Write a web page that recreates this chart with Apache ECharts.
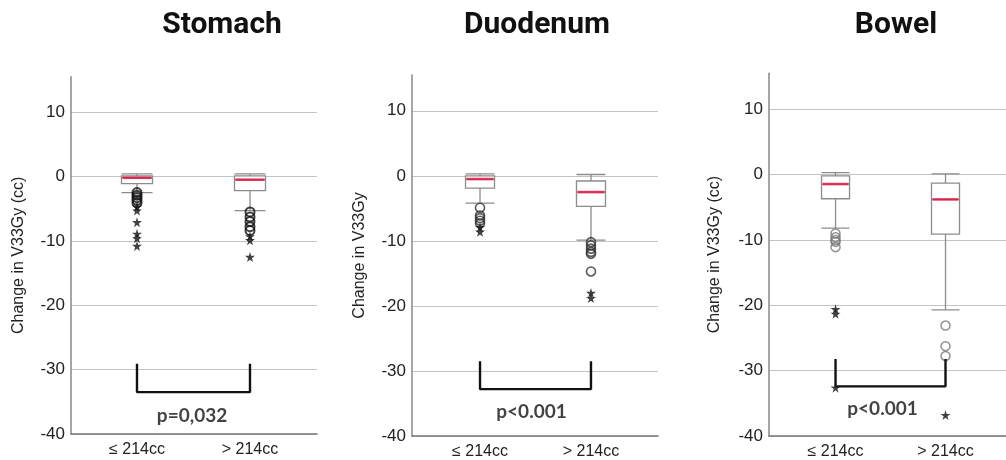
<!DOCTYPE html>
<html>
<head>
<meta charset="utf-8">
<script src="https://cdn.jsdelivr.net/npm/echarts@6/dist/echarts.min.js"></script>
<style>html,body{margin:0;padding:0;background:#fff}#c{width:1006px;height:460px}</style>
</head>
<body>
<div id="c"></div>
<script>
// ---- data ----
const categories = ['≤ 214cc', '> 214cc'];
const panelTitles = ['Stomach', 'Duodenum', 'Bowel'];
const yNames = ['Change in V33Gy (cc)', 'Change in V33Gy', 'Change in V33Gy (cc)'];
const yTicks = [-40, -30, -20, -10, 0, 10];

// [lower whisker, Q1, median, Q3, upper whisker]
const stomachBox = [[-2.5, -1.1, -0.2, 0.1, 0.4], [-5.3, -2.2, -0.5, 0.1, 0.4]];
const duodenumBox = [[-4.2, -1.9, -0.5, 0.0, 0.3], [-9.9, -4.7, -2.5, -0.8, 0.2]];
const bowelBox = [[-8.2, -3.7, -1.45, -0.2, 0.3], [-20.7, -9.1, -3.8, -1.3, 0.1]];

const stomachCircles = [[-2.5, -2.9, -3.3, -3.7, -4.1], [-5.5, -6.3, -7.0, -7.8, -8.4]];
const stomachStars = [[-4.7, -5.3, -7.1, -8.9, -9.6, -10.8], [-9.3, -9.9, -12.5]];
const duodenumCircles = [[-4.9, -6.1, -6.5, -6.9, -7.3], [-10.2, -10.7, -11.2, -11.7, -12.0, -14.7]];
const duodenumStars = [[-7.9, -8.6], [-18.0, -18.8]];
const bowelCircles = [[-9.0, -9.6, -10.0, -10.3, -11.1], [-23.1, -26.25, -27.75]];
const bowelStars = [[-20.6, -21.3, -32.6], [-36.8]];

// significance brackets: [top, bottom] in y-units, p-value text
const brackets = [[-29.1, -33.5], [-28.5, -32.8], [-28.2, -32.4]];
const pTexts = ['p=0,032', 'p<0.001', 'p<0.001'];
const pLabelY = [-37.2, -36.3, -35.8];

// ---- layout (positions / styles) ----
const panels = [
  {box: stomachBox, circ: stomachCircles, star: stomachStars,
   grid: {left: 71, right: 689, top: 76.7, bottom: 26}, xmin: -0.584, xmax: 1.593,
   titleX: 217, bw: 31, pX: 0.487, nameGap: 44, circColor: '#111', circW: 2},
  {box: duodenumBox, circ: duodenumCircles, star: duodenumStars,
   grid: {left: 412, right: 348, top: 75, bottom: 20.7}, xmin: -0.613, xmax: 1.604,
   titleX: 532, bw: 29, pX: 0.464, nameGap: 44, circColor: '#333', circW: 1.6},
  {box: bowelBox, circ: bowelCircles, star: bowelStars,
   grid: {left: 769, right: 0, top: 73.3, bottom: 17.3}, xmin: -0.605, xmax: 1.55,
   titleX: 891, bw: 28, pX: 0.427, nameGap: 46, circColor: '#777', circW: 1.5}
];

const starPath = 'path://M50,0 L61,35 L98,35 L68,57 L79,91 L50,70 L21,91 L32,57 L2,35 L39,35 Z';

const option = {
  animation: false,
  backgroundColor: '#fff',
  title: [], grid: [], xAxis: [], yAxis: [], series: []
};

panels.forEach((p, i) => {
  option.title.push({
    text: panelTitles[i], left: p.titleX, top: 5, textAlign: 'center',
    textStyle: {fontFamily: 'Roboto', fontWeight: 'bold', fontSize: 30, color: '#111'}
  });
  option.grid.push(Object.assign({containLabel: false}, p.grid));
  option.xAxis.push({
    type: 'value', gridIndex: i, min: p.xmin, max: p.xmax,
    splitLine: {show: false}, axisTick: {show: false},
    axisLine: {show: true, onZero: false, lineStyle: {color: '#777', width: 1.5}},
    axisLabel: {customValues: [0, 1], formatter: v => categories[Math.round(v)],
      fontFamily: 'Liberation Sans', fontSize: 16, color: '#222', margin: 8}
  });
  option.yAxis.push({
    type: 'value', gridIndex: i, min: yTicks[0], max: 15.5, interval: 10,
    name: yNames[i], nameLocation: 'middle', nameGap: p.nameGap,
    nameTextStyle: {fontFamily: 'Liberation Sans', fontSize: 16, color: '#222'},
    axisTick: {show: false},
    axisLine: {show: true, onZero: false, lineStyle: {color: '#888', width: 1.5}},
    axisLabel: {showMaxLabel: false, formatter: v => (yTicks.indexOf(v) >= 0 ? String(v) : ''),
      fontFamily: 'Liberation Sans', fontSize: 17, color: '#222', margin: 6},
    splitLine: {show: true, showMaxLine: false, lineStyle: {color: '#c4c4c4', width: 1.2}}
  });
  // boxplot
  option.series.push({
    type: 'boxplot', xAxisIndex: i, yAxisIndex: i,
    boxWidth: [p.bw, p.bw],
    itemStyle: {color: '#fff', borderColor: '#8c8c8c', borderWidth: 1.3},
    data: p.box.map((b, k) => [k].concat(b))
  });
  // red medians
  option.series.push({
    type: 'scatter', xAxisIndex: i, yAxisIndex: i, symbol: 'rect',
    symbolSize: [p.bw - 2, 2.6], itemStyle: {color: '#e3103f'}, z: 5,
    data: p.box.map((b, k) => [k, b[2]])
  });
  // outlier circles
  const cData = [];
  p.circ.forEach((arr, k) => arr.forEach(v => cData.push([k, v])));
  option.series.push({
    type: 'scatter', xAxisIndex: i, yAxisIndex: i, symbol: 'circle', symbolSize: 9,
    itemStyle: {color: 'rgba(255,255,255,0)', borderColor: p.circColor, borderWidth: p.circW}, z: 6,
    data: cData
  });
  // extreme stars
  const sData = [];
  p.star.forEach((arr, k) => arr.forEach(v => sData.push([k, v])));
  option.series.push({
    type: 'scatter', xAxisIndex: i, yAxisIndex: i, symbol: starPath, symbolSize: 10,
    itemStyle: {color: '#111'}, z: 6, data: sData
  });
  // bracket
  const br = brackets[i];
  option.series.push({
    type: 'line', xAxisIndex: i, yAxisIndex: i, symbol: 'none', z: 7,
    lineStyle: {color: '#111', width: 2.4},
    data: [[0, br[0]], [0, br[1]], [1, br[1]], [1, br[0]]]
  });
  // p-value label
  option.series.push({
    type: 'scatter', xAxisIndex: i, yAxisIndex: i, symbolSize: 0, z: 8,
    label: {show: true, position: 'inside', formatter: pTexts[i],
      fontFamily: 'Lato', fontWeight: 'bold', fontSize: 19, color: '#111'},
    data: [[p.pX, pLabelY[i]]]
  });
});

const chart = echarts.init(document.getElementById('c'), null, {renderer: 'canvas'});
chart.setOption(option);
</script>
</body>
</html>
